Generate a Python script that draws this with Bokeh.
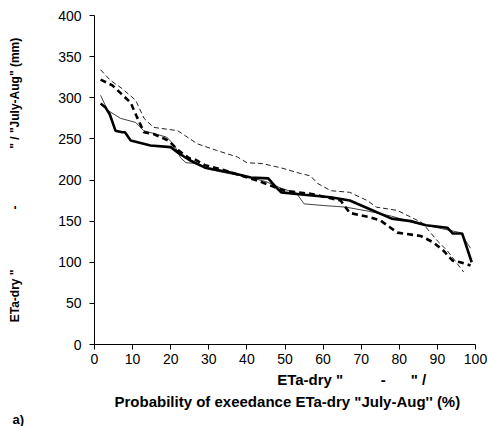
from bokeh.plotting import figure
from bokeh.models import FixedTicker, Range1d, Title
from bokeh.embed import file_html
from bokeh.resources import INLINE

# ---- data ----
x_ticks = [0, 10, 20, 30, 40, 50, 60, 70, 80, 90, 100]
y_ticks = [0, 50, 100, 150, 200, 250, 300, 350, 400]

# thick solid
s1_x = [1.6, 2.9, 4, 5.5, 7.3, 8, 9.5, 14.7, 20, 22, 25, 29, 35.7, 41, 45.6, 47.5, 49, 55, 62, 67, 72, 78, 83, 87, 92.6, 94, 96.5, 99]
s1_y = [293, 288, 280, 260, 258, 258, 248, 242, 240, 233, 224, 215, 209, 203, 202, 192, 185, 182, 179, 175, 165, 153, 150, 145, 142, 135, 135, 100]

# thin solid
s2_x = [1.6, 3.4, 6.8, 10.8, 12.9, 19, 21, 22.6, 24, 27, 30, 35, 40, 45, 49, 53, 55, 60, 66, 72, 78, 84, 91, 96, 98.7]
s2_y = [303, 285, 275, 270, 260, 252, 242, 227, 221, 220, 213, 208, 204, 198, 190, 184, 171, 169, 167, 162, 156, 148, 141, 136, 117]

# thick dashed
s3_x = [1.6, 4.7, 7, 9.5, 11, 13, 15.5, 19.4, 22, 25, 26, 29, 34, 38, 43, 48, 50, 57, 64.6, 67, 72, 75, 77.7, 79.5, 85.6, 89, 91.6, 94, 96, 98.7]
s3_y = [322, 315, 305, 294, 278, 258, 256, 248, 236, 226, 226, 218, 212, 206, 199, 190, 187, 183, 175, 160, 155, 151, 142, 136, 132, 124, 114, 102, 100, 96]

# thin dashed
s4_x = [1.6, 4.2, 7, 10.8, 13, 15.5, 21.8, 27, 32, 37.5, 40, 44, 48.8, 54, 56.7, 58.5, 62, 67, 71.6, 74, 79.5, 83, 86, 90, 92.6, 96.9]
s4_y = [334, 321, 312, 297, 275, 264, 260, 244, 236, 228, 221, 220, 215, 208, 205, 196, 187, 185, 175, 167, 163, 155, 148, 126, 114, 88]

NB = "\u00a0"
y_title = 'ETa-dry "' + NB * 18 + "-" + NB * 17 + '" / "July-Aug" (mm)'
x_title_1 = NB * 32 + 'ETa-dry "' + NB * 9 + "-" + NB * 6 + '" /'
x_title_2 = "Probability of exeedance ETa-dry \"July-Aug'' (%)"
panel_tag = "a)"

FONT = "Liberation Sans"

p = figure(width=488, height=426, x_range=Range1d(0, 100), y_range=Range1d(0, 400),
           output_backend="svg", toolbar_location=None,
           min_border_left=94, min_border_right=13, min_border_top=15, min_border_bottom=82)
p.outline_line_color = None
p.grid.visible = False
p.background_fill_color = "white"
p.border_fill_color = "white"

for ax, ticks in ((p.xaxis, x_ticks), (p.yaxis, y_ticks)):
    ax.ticker = FixedTicker(ticks=ticks)
    ax.axis_line_color = "black"
    ax.axis_line_width = 1
    ax.major_tick_line_color = "black"
    ax.major_tick_out = 5
    ax.major_tick_in = 0
    ax.minor_tick_out = 0
    ax.minor_tick_in = 0
    ax.major_label_text_font = FONT
    ax.major_label_text_font_size = "14px"
    ax.major_label_text_color = "black"
    ax.axis_label_text_font = FONT
    ax.axis_label_text_font_style = "bold"
    ax.axis_label_text_color = "black"
p.yaxis.major_label_standoff = 8
p.xaxis.major_label_standoff = 4

p.yaxis.axis_label = y_title
p.yaxis.axis_label_text_font_size = "12px"
p.yaxis.axis_label_standoff = 33

p.xaxis.axis_label = x_title_1
p.xaxis.axis_label_text_font_size = "15px"
p.xaxis.axis_label_standoff = 4

p.add_layout(Title(text=x_title_2, align="left", offset=20, standoff=0,
                   text_font=FONT, text_font_size="15px", text_font_style="bold",
                   text_color="black"), "below")
p.add_layout(Title(text=panel_tag, align="left", offset=-82, standoff=0,
                   text_font=FONT, text_font_size="13px", text_font_style="bold",
                   text_color="black"), "below")

p.line(s2_x, s2_y, line_color="#444444", line_width=1)
p.line(s4_x, s4_y, line_color="#222222", line_width=1, line_dash="5 3")
p.line(s3_x, s3_y, line_color="black", line_width=2.6, line_dash="6 4")
p.line(s1_x, s1_y, line_color="black", line_width=2.6)

open("out.html", "w").write(file_html(p, INLINE))
